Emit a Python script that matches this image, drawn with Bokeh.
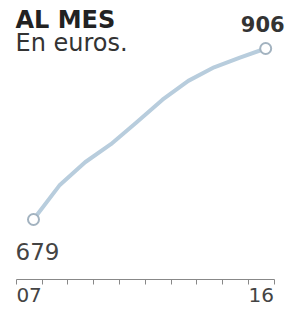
from bokeh.plotting import figure
from bokeh.models import ColumnDataSource, FixedTicker, Range1d, Label
from bokeh.core.properties import value
from bokeh.embed import file_html
from bokeh.resources import INLINE

# Data
years = [2007, 2008, 2009, 2010, 2011, 2012, 2013, 2014, 2015, 2016]
amounts = [679, 724, 755, 779, 808, 838, 863, 881, 894, 906]
tick_labels = ["07", "16"]
title_lines = ["AL MES", "En euros."]

FONT = "DejaVu Sans"
SHIFT = 0.17  # axis bins sit slightly left of the points in the original

FRAME_H = 279
p = figure(width=288, height=316, frame_width=288, frame_height=FRAME_H,
           output_backend="svg", toolbar_location=None,
           x_range=Range1d(2005.721, 2016.884),
           y_range=Range1d(679 - (FRAME_H - 219) / 0.7533, 969.7),
           min_border_left=0, min_border_right=0, min_border_top=0, min_border_bottom=37)
p.outline_line_color = None
p.background_fill_color = "white"
p.border_fill_color = "white"
p.grid.visible = False
p.yaxis.visible = False

label_pos = [years[0] - SHIFT, years[-1] - SHIFT]
ax = p.xaxis[0]
ax.ticker = FixedTicker(ticks=label_pos,
                        minor_ticks=[y - 0.5 - SHIFT for y in years] + [years[-1] + 0.5 - SHIFT])
ax.bounds = (years[0] - 0.5 - SHIFT, years[-1] + 0.5 - SHIFT)
ax.major_label_overrides = {label_pos[0]: tick_labels[0], label_pos[1]: tick_labels[1]}
ax.major_tick_out = 0
ax.major_tick_in = 0
ax.minor_tick_out = 5
ax.minor_tick_in = 0
ax.minor_tick_line_color = "#888888"
ax.axis_line_color = "#888888"
ax.major_label_standoff = 3
ax.major_label_text_font = FONT
ax.major_label_text_font_size = "20px"
ax.major_label_text_color = "#444444"

src = ColumnDataSource(dict(x=years, y=amounts))
p.line("x", "y", source=src, line_color="#b8cddd", line_width=4, line_cap="round", line_join="round")

ends = ColumnDataSource(dict(x=[years[0], years[-1]], y=[amounts[0], amounts[-1]]))
p.scatter("x", "y", source=ends, size=11, fill_color="white", line_color="#a3b3c0", line_width=2)

p.text(x=[years[-1]], y=[amounts[-1]], text=[str(amounts[-1])], text_align="center",
       text_baseline="alphabetic", y_offset=-24, x_offset=-3, text_font=value(FONT),
       text_font_style="bold", text_font_size="21px", text_color="#333333")
p.text(x=[years[0]], y=[amounts[0]], text=[str(amounts[0])], text_align="center",
       text_baseline="alphabetic", y_offset=32, x_offset=4, text_font=value(FONT),
       text_font_size="23px", text_color="#444444")

p.add_layout(Label(x=2006.302, y=944.0, text=title_lines[0], text_align="left",
                   text_baseline="alphabetic", text_font=FONT, text_font_style="bold",
                   text_font_size="24px", text_color="#222222"))
p.add_layout(Label(x=2006.302, y=913.5, text=title_lines[1], text_align="left",
                   text_baseline="alphabetic", text_font=FONT,
                   text_font_size="24px", text_color="#333333"))

open("out.html", "w").write(file_html(p, INLINE))
